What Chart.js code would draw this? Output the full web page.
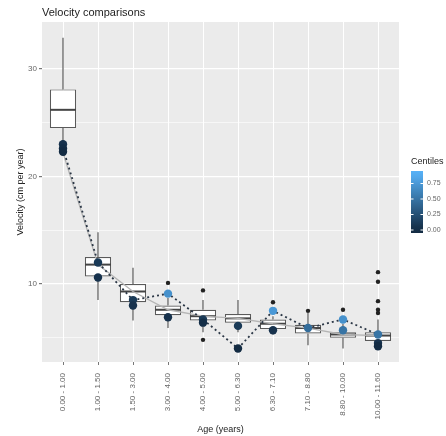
<!DOCTYPE html>
<html>
<head>
<meta charset="utf-8">
<script src="https://cdn.jsdelivr.net/npm/chart.js@4.4.1/dist/chart.umd.min.js"></script>
<style>
  body { margin: 0; background: #fff; }
  canvas { display: block; }
</style>
</head>
<body>
<canvas id="chart" width="446" height="436"></canvas>
<script>
const ageGroups = ["0.00 - 1.00", "1.00 - 1.50", "1.50 - 3.00", "3.00 - 4.00", "4.00 - 5.00",
    "5.00 - 6.30", "6.30 - 7.10", "7.10 - 8.80", "8.80 - 10.00", "10.00 - 11.60"];

// box stats
const whiskerLow = [23.2, 8.5, 6.6, 5.9, 5.5, 5.5, 5.3, 4.3, 4.0, 4.0];
const q1 = [24.5, 10.7, 8.3, 7.1, 6.6, 6.4, 5.8, 5.4, 5.0, 4.7];
const median = [26.2, 11.8, 9.3, 7.6, 7.0, 6.8, 6.3, 5.9, 5.3, 5.2];
const q3 = [28.1, 12.5, 10.0, 8.0, 7.6, 7.2, 6.7, 6.2, 5.5, 5.5];
const whiskerHigh = [32.9, 14.8, 11.5, 8.7, 8.5, 8.5, 7.0, 7.3, 6.3, 6.7];

// outliers
const outlierX = [3, 4, 4, 6, 7, 8, 9, 9, 9, 9, 9];
const outlierY = [10.1, 9.4, 4.8, 8.3, 7.5, 7.6, 11.1, 10.2, 8.4, 7.6, 7.3];

// child points coloured by centile
const centileX = [0, 0, 0, 1, 1, 2, 2, 3, 3, 4, 4, 5, 5, 6, 6, 7, 8, 8, 9, 9, 9];
const centileY = [23.0, 22.6, 22.3, 12.0, 10.6, 8.5, 8.0, 9.1, 6.9, 6.7, 6.4, 6.1, 4.0, 7.5, 5.7, 5.9, 6.7, 5.7, 5.3, 4.5, 4.2];
const centileC = [0.05, 0.02, 0.0, 0.1, 0.05, 0.1, 0.05, 0.7, 0.05, 0.1, 0.02, 0.1, 0.0, 0.75, 0.05, 0.45, 0.7, 0.5, 0.5, 0.05, 0.0];

// dotted trajectory + grey reference line
const trajectory = [22.6, 12.0, 8.5, 9.1, 6.7, 4.0, 7.5, 5.9, 6.7, 5.3];
const reference = [22.2, 11.8, 9.3, 7.6, 7.0, 6.8, 6.3, 5.9, 5.3, 5.2];

const legendTicks = [0, 0.25, 0.5, 0.75];
const centileMax = 0.92;

function centileColour(v) {
    const t = Math.max(0, Math.min(1, v / centileMax));
    const lo = [19, 43, 67], hi = [86, 177, 247];
    const c = lo.map((l, i) => Math.round(l + (hi[i] - l) * t));
    return `rgb(${c[0]},${c[1]},${c[2]})`;
}

const whiskerData = [];
ageGroups.forEach((g, i) => {
    whiskerData.push({ x: i, y: whiskerLow[i] }, { x: i, y: q1[i] }, { x: i, y: null });
    whiskerData.push({ x: i, y: q3[i] }, { x: i, y: whiskerHigh[i] }, { x: i, y: null });
});

const panelBg = {
    id: "panelBg",
    beforeDraw(chart) {
        const { ctx, chartArea: a } = chart;
        ctx.save();
        ctx.fillStyle = "#ebebeb";
        ctx.fillRect(a.left, a.top, a.right - a.left, a.bottom - a.top);
        ctx.restore();
    },
    afterDraw(chart) {
        const { ctx, chartArea: a } = chart;
        ctx.save();
        ctx.fillStyle = "#222";
        ctx.font = "11px 'Liberation Sans', Arial, sans-serif";
        ctx.textBaseline = "middle";
        ctx.fillText("Velocity comparisons", a.left, 13);

        // colourbar legend
        const bx = 411, bw = 12, top = 171, bottom = 233;
        const y0 = 230, perUnit = 62;
        ctx.fillStyle = "#222";
        ctx.font = "9px 'Liberation Sans', Arial, sans-serif";
        ctx.fillText("Centiles", bx, 162);
        const grad = ctx.createLinearGradient(0, bottom, 0, top);
        const vb = (y0 - bottom) / perUnit, vt = (y0 - top) / perUnit;
        for (let k = 0; k <= 10; k++) {
            const v = vb + (vt - vb) * k / 10;
            grad.addColorStop(k / 10, centileColour(v));
        }
        ctx.fillStyle = grad;
        ctx.fillRect(bx, top, bw, bottom - top);
        ctx.font = "7px 'Liberation Sans', Arial, sans-serif";
        ctx.strokeStyle = "#fff";
        ctx.lineWidth = 1;
        legendTicks.forEach((t) => {
            const y = y0 - t * perUnit;
            ctx.beginPath();
            ctx.moveTo(bx, y); ctx.lineTo(bx + 2.5, y);
            ctx.moveTo(bx + bw - 2.5, y); ctx.lineTo(bx + bw, y);
            ctx.stroke();
            ctx.fillStyle = "#666";
            ctx.fillText(t.toFixed(2), bx + bw + 4, y);
        });
        ctx.restore();
    },
};

new Chart(document.getElementById("chart"), {
    data: {
        datasets: [
            {
                type: "line",
                data: whiskerData,
                borderColor: "#5a5a5a",
                borderWidth: 1.2,
                pointRadius: 0,
                spanGaps: false,
                order: 7,
            },
            {
                type: "bar",
                data: ageGroups.map((g, i) => ({ x: i, y: [q1[i], q3[i]] })),
                backgroundColor: "#ffffff",
                borderColor: "#5a5a5a",
                borderWidth: 1.2,
                borderSkipped: false,
                grouped: false,
                barPercentage: 0.75,
                categoryPercentage: 1,
                order: 6,
            },
            {
                type: "line",
                data: ageGroups.map((g, i) => ({ x: i, y: median[i] })),
                showLine: false,
                pointStyle: "line",
                pointRadius: 13,
                pointBorderWidth: 2,
                pointBorderColor: "#444",
                order: 5,
            },
            {
                type: "line",
                data: ageGroups.map((g, i) => ({ x: i, y: reference[i] })),
                borderColor: "#b5b5b5",
                borderWidth: 1.3,
                pointRadius: 0,
                order: 4,
            },
            {
                type: "line",
                data: ageGroups.map((g, i) => ({ x: i, y: trajectory[i] })),
                borderColor: "#2b3746",
                borderWidth: 1.8,
                borderDash: [2, 3],
                pointRadius: 0,
                order: 3,
            },
            {
                type: "scatter",
                data: outlierX.map((x, i) => ({ x: x, y: outlierY[i] })),
                backgroundColor: "#222",
                borderWidth: 0,
                pointRadius: 2.2,
                order: 2,
            },
            {
                type: "scatter",
                data: centileX.map((x, i) => ({ x: x, y: centileY[i] })),
                backgroundColor: centileC.map(centileColour),
                borderWidth: 0,
                pointRadius: 4.2,
                order: 1,
            },
        ],
    },
    options: {
        responsive: false,
        animation: false,
        devicePixelRatio: 1,
        layout: { padding: { top: 22, right: 47, left: 0, bottom: 0 } },
        plugins: { legend: { display: false }, tooltip: { enabled: false } },
        scales: {
            x: {
                type: "linear",
                min: -0.6,
                max: 9.6,
                offset: false,
                afterBuildTicks: (s) => { s.ticks = ageGroups.map((g, i) => ({ value: i })); },
                afterFit: (s) => { s.height = 74; },
                border: { display: false },
                grid: { offset: false, color: "#ffffff", lineWidth: 1, tickLength: 3, tickColor: "#777" },
                ticks: {
                    autoSkip: false,
                    minRotation: 90,
                    maxRotation: 90,
                    padding: 8,
                    color: "#666",
                    font: { size: 8, family: "'Liberation Sans', Arial, sans-serif" },
                    callback: (v) => ageGroups[v],
                },
                title: {
                    display: true,
                    text: "Age (years)",
                    color: "#222",
                    font: { size: 9, family: "'Liberation Sans', Arial, sans-serif" },
                    padding: { top: 0, bottom: 1 },
                },
            },
            y: {
                type: "linear",
                min: 2.74,
                max: 34.37,
                afterBuildTicks: (s) => { s.ticks = [5, 10, 15, 20, 25, 30].map((v) => ({ value: v })); },
                afterFit: (s) => { s.width = 42; },
                border: { display: false },
                grid: {
                    color: "#ffffff",
                    lineWidth: (c) => (c.tick && c.tick.value % 10 === 0 ? 1.2 : 0.6),
                    tickLength: 3,
                    tickColor: (c) => (c.tick && c.tick.value % 10 === 0 ? "#777" : "rgba(0,0,0,0)"),
                },
                ticks: {
                    padding: 2,
                    color: "#666",
                    font: { size: 8, family: "'Liberation Sans', Arial, sans-serif" },
                    callback: (v) => (v % 10 === 0 ? String(v) : ""),
                },
                title: {
                    display: true,
                    text: "Velocity (cm per year)",
                    color: "#222",
                    font: { size: 9, family: "'Liberation Sans', Arial, sans-serif" },
                    padding: { top: 15, bottom: 0 },
                },
            },
        },
    },
    plugins: [panelBg],
});
</script>
</body>
</html>
